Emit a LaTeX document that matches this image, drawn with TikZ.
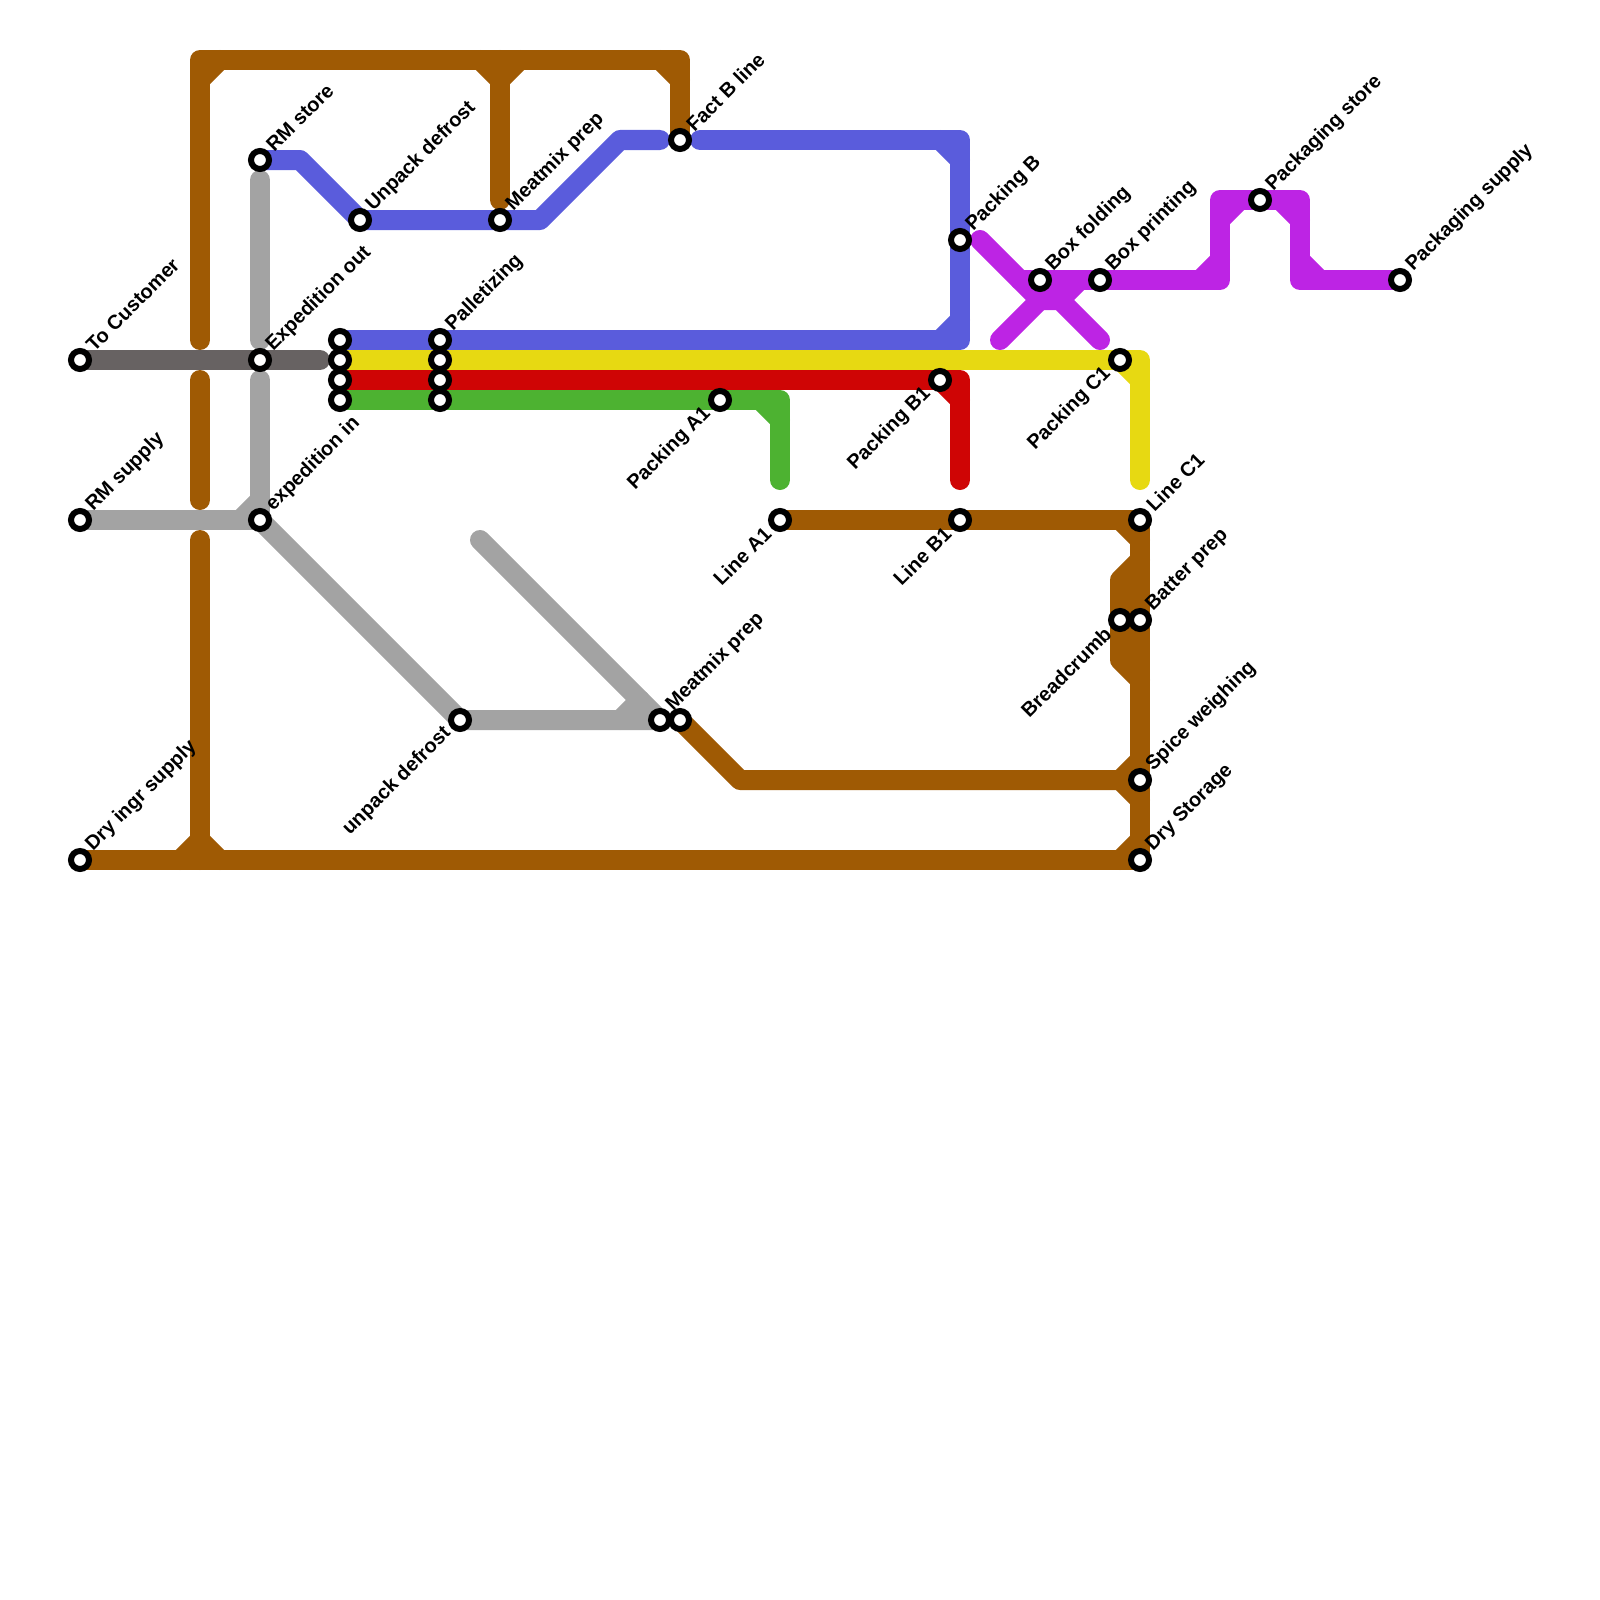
\documentclass[tikz,border=0pt]{standalone}
\usepackage{fontspec}
\setmainfont{Liberation Sans}
\pgfdeclarelayer{lines}
\pgfsetlayers{lines,main}
\definecolor{cbrown}{HTML}{9F5A04}
\definecolor{cblue}{HTML}{5A5CDC}
\definecolor{cyellow}{HTML}{E7D912}
\definecolor{cred}{HTML}{CF0505}
\definecolor{cgreen}{HTML}{4DB231}
\definecolor{cgray}{HTML}{A3A3A3}
\definecolor{cdark}{HTML}{676262}
\definecolor{cpurple}{HTML}{BD24E4}
\tikzset{
  x=1pt,y=-1pt,
  stn/.style={circle,draw=black,fill=white,line width=6pt,minimum size=18pt,inner sep=0pt,outer sep=0pt},
  lbl/.style={text=black,inner sep=0pt,rotate=45,font=\fontsize{20}{24}\selectfont\bfseries},
  lblr/.style={lbl,anchor=west,xshift=15.2pt,yshift=1.8pt},
  lbll/.style={lbl,anchor=east,xshift=-16pt,yshift=1.2pt},
  metro/.style={line width=20pt,line cap=round,line join=round},
}
\begin{document}
\begin{tikzpicture}
\useasboundingbox (0,0) rectangle (1600,1600);
% stations
\node[stn] (toc) at (80,360) {};
\node[stn] (rms) at (80,520) {};
\node[stn] (dry) at (80,860) {};
\node[stn] (store) at (260,160) {};
\node[stn] (expo) at (260,360) {};
\node[stn] (expi) at (260,520) {};
\node[stn] (unp) at (360,220) {};
\node[stn] (mixa) at (500,220) {};
\node[stn] (fact) at (680,140) {};
\node[stn] (ra) at (340,340) {};
\node[stn] (rb) at (340,360) {};
\node[stn] (rc) at (340,380) {};
\node[stn] (rd) at (340,400) {};
\node[stn] (pa) at (440,340) {};
\node[stn] (pb) at (440,360) {};
\node[stn] (pc) at (440,380) {};
\node[stn] (pd) at (440,400) {};
\node[stn] (pka) at (720,400) {};
\node[stn] (pkbo) at (940,380) {};
\node[stn] (pkb) at (960,240) {};
\node[stn] (boxf) at (1040,280) {};
\node[stn] (boxp) at (1100,280) {};
\node[stn] (pkc) at (1120,360) {};
\node[stn] (pst) at (1260,200) {};
\node[stn] (psu) at (1400,280) {};
\node[stn] (la) at (780,520) {};
\node[stn] (lb) at (960,520) {};
\node[stn] (lc) at (1140,520) {};
\node[stn] (bat) at (1140,620) {};
\node[stn] (brd) at (1120,620) {};
\node[stn] (spi) at (1140,780) {};
\node[stn] (dst) at (1140,860) {};
\node[stn] (und) at (460,720) {};
\node[stn] (mixb) at (660,720) {};
\node[stn] (mixc) at (680,720) {};
% labels
\node[lblr] (ltoc) at (toc.center) {To Customer};
\node[lblr] (lrms) at (rms.center) {RM supply};
\node[lblr] (ldry) at (dry.center) {Dry ingr supply};
\node[lblr] (lstore) at (store.center) {RM store};
\node[lblr] (lexpo) at (expo.center) {Expedition out};
\node[lblr] (lexpi) at (expi.center) {expedition in};
\node[lblr] (lunp) at (unp.center) {Unpack defrost};
\node[lblr] (lmixa) at (mixa.center) {Meatmix prep};
\node[lblr] (lfact) at (fact.center) {Fact B line};
\node[lblr] (lpal) at (pa.center) {Palletizing};
\node[lblr] (lpkb) at (pkb.center) {Packing B};
\node[lblr] (lboxf) at (boxf.center) {Box folding};
\node[lblr] (lboxp) at (boxp.center) {Box printing};
\node[lblr] (lpst) at (pst.center) {Packaging store};
\node[lblr] (lpsu) at (psu.center) {Packaging supply};
\node[lblr] (llc) at (lc.center) {Line C1};
\node[lblr] (lbat) at (bat.center) {Batter prep};
\node[lblr] (lspi) at (spi.center) {Spice weighing};
\node[lblr] (ldst) at (dst.center) {Dry Storage};
\node[lblr] (lmixb) at (mixb.center) {Meatmix prep};
\node[lbll] (lpka) at (pka.center) {Packing A1};
\node[lbll] (lpkbo) at (pkbo.center) {Packing B1};
\node[lbll] (lpkc) at (pkc.center) {Packing C1};
\node[lbll] (lla) at (la.center) {Line A1};
\node[lbll] (llb) at (lb.center) {Line B1};
\node[lbll] (lbrd) at (brd.center) {Breadcrumb};
\node[lbll] (lund) at (und.center) {unpack defrost};
% bends and free ends
\foreach \n/\x/\y in {
  ba/200/340,bb/200/60,bc/680/60,bd/220/60,be/200/80,bf/480/60,bg/500/80,bh/520/60,bi/500/60,bj/500/200,bk/660/60,bl/680/80,
  bm/200/380,bn/200/500,bo/200/540,bp/200/860,bq/180/860,br/200/840,bs/220/860,bt/1140/540,bu/1120/520,
  bv/1140/560,bw/1120/580,bx/1120/660,by/1140/680,bz/1120/780,ca/1140/760,cb/1140/800,cc/1120/860,cd/1140/840,ce/740/780,
  ga/260/180,gb/260/340,gc/260/380,gd/240/520,ge/260/500,gf/480/540,gg/620/720,gh/640/700,
  dk/320/360,
  ua/300/160,ub/540/220,uc/620/140,ud/660/140,ue/700/140,uf/960/140,ug/960/340,uh/940/140,ui/960/160,uj/960/320,uk/940/340,
  ya/1140/360,yb/1140/480,yc/1120/360,yd/1140/380,
  ra1/960/380,ra2/960/480,ra3/960/400,
  na/780/400,nb/780/480,nc/760/400,nd/780/420,
  va/980/240,vb/1040/300,vc/1060/300,vd/1100/340,ve/1000/340,vf/1080/280,vg/1020/280,vh/1220/280,vi/1220/200,vj/1300/200,vk/1300/280,
  vl/1200/280,vm/1220/260,vn/1220/220,vo/1240/200,vp/1280/200,vq/1300/220,vr/1300/260,vs/1320/280}
  {\coordinate (\n) at (\x,\y);}
\begin{pgfonlayer}{lines}
% gray
\draw[metro,cgray] (ga) -- (gb);
\draw[metro,cgray] (gc) -- (expi.center);
\draw[metro,cgray] (rms.center) -- (expi.center);
\draw[metro,cgray] (gd) -- (ge);
\draw[metro,cgray] (expi.center) -- (und.center) -- (mixb.center);
\draw[metro,cgray] (gf) -- (mixb.center);
\draw[metro,cgray] (gg) -- (gh);
% dark
\draw[metro,cdark] (toc.center) -- (dk);
% brown
\draw[metro,cbrown] (ba) -- (bb) -- (bc) -- (fact.center);
\draw[metro,cbrown] (be) -- (bd);
\draw[metro,cbrown] (bf) -- (bg) -- (bh);
\draw[metro,cbrown] (bi) -- (bj);
\draw[metro,cbrown] (bk) -- (bl);
\draw[metro,cbrown] (bm) -- (bn);
\draw[metro,cbrown] (bo) -- (bp);
\draw[metro,cbrown] (bq) -- (br) -- (bs);
\draw[metro,cbrown] (dry.center) -- (dst.center) -- (lc.center) -- (la.center);
\draw[metro,cbrown] (bu) -- (bt);
\draw[metro,cbrown] (bv) -- (bw) -- (bx) -- (by);
\draw[metro,cbrown] (brd.center) -- (bat.center);
\draw[metro,cbrown] (ca) -- (bz) -- (cb);
\draw[metro,cbrown] (cc) -- (cd);
\draw[metro,cbrown] (mixc.center) -- (ce) -- (spi.center);
% blue
\draw[metro,cblue] (store.center) -- (ua) -- (unp.center) -- (ub) -- (uc) -- (ud);
\draw[metro,cblue] (ue) -- (uf) -- (ug) -- (ra.center);
\draw[metro,cblue] (uh) -- (ui);
\draw[metro,cblue] (uj) -- (uk);
% yellow
\draw[metro,cyellow] (rb.center) -- (ya) -- (yb);
\draw[metro,cyellow] (yc) -- (yd);
% red
\draw[metro,cred] (rc.center) -- (ra1) -- (ra2);
\draw[metro,cred] (pkbo.center) -- (ra3);
% green
\draw[metro,cgreen] (rd.center) -- (na) -- (nb);
\draw[metro,cgreen] (nc) -- (nd);
% purple
\draw[metro,cpurple] (va) -- (vb) -- (vc) -- (vd);
\draw[metro,cpurple] (ve) -- (vb);
\draw[metro,cpurple] (vc) -- (vf);
\draw[metro,cpurple] (vg) -- (vh) -- (vi) -- (vj) -- (vk) -- (psu.center);
\draw[metro,cpurple] (vl) -- (vm);
\draw[metro,cpurple] (vn) -- (vo);
\draw[metro,cpurple] (vp) -- (vq);
\draw[metro,cpurple] (vr) -- (vs);
\end{pgfonlayer}
\end{tikzpicture}
\end{document}
